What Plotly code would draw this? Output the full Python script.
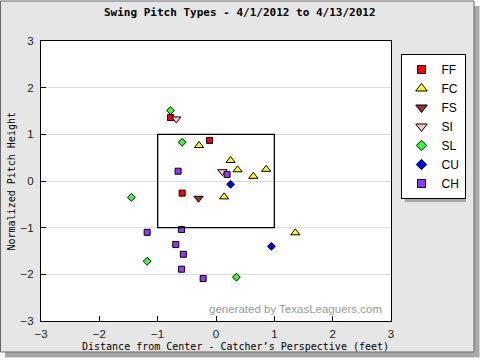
import plotly.graph_objects as go

# ---- data (feet from center, normalized height) ----
pitch_types = ["FF", "FC", "FS", "SI", "SL", "CU", "CH"]
ff_x = [-0.78, -0.11, -0.58]
ff_y = [1.36, 0.87, -0.26]
fc_x = [-0.29, 0.25, 0.37, 0.64, 0.86, 0.14, 1.36]
fc_y = [0.76, 0.44, 0.24, 0.10, 0.25, -0.34, -1.11]
fs_x = [-0.30]
fs_y = [-0.37]
si_x = [-0.68, 0.11]
si_y = [1.33, 0.20]
sl_x = [-0.78, -0.58, -1.45, -1.18, 0.35]
sl_y = [1.51, 0.83, -0.35, -1.72, -2.06]
cu_x = [0.25, 0.95]
cu_y = [-0.07, -1.40]
ch_x = [-0.65, 0.19, -1.18, -0.59, -0.69, -0.56, -0.59, -0.22]
ch_y = [0.21, 0.14, -1.10, -1.04, -1.36, -1.57, -1.89, -2.09]
tick_vals = [-3, -2, -1, 0, 1, 2, 3]

series = [
    ("FF", ff_x, ff_y, "square", "#ff0000", 6),
    ("FC", fc_x, fc_y, "triangle-up", "#ffff00", 8),
    ("FS", fs_x, fs_y, "triangle-down", "#993333", 8),
    ("SI", si_x, si_y, "triangle-down", "#ffc0cb", 8),
    ("SL", sl_x, sl_y, "diamond", "#33ff33", 6),
    ("CU", cu_x, cu_y, "diamond", "#0000ff", 6),
    ("CH", ch_x, ch_y, "square", "#9933ff", 6),
]

fig = go.Figure()
for name, xs, ys, sym, col, sz in series:
    fig.add_trace(go.Scatter(
        x=xs, y=ys, mode="markers", name=name, showlegend=False,
        marker=dict(symbol=sym, color=col, size=sz,
                    line=dict(color="black", width=1)),
    ))
# legend entries (slightly larger markers, as in the reference legend)
for name, xs, ys, sym, col, sz in series:
    fig.add_trace(go.Scatter(
        x=[None], y=[None], mode="markers", name=name, showlegend=True,
        marker=dict(symbol=sym, color=col, size=sz + 2,
                    line=dict(color="black", width=1)),
    ))

L, R, T, B = 41, 89, 41, 39
PW, PH = 480 - L - R, 360 - T - B


def px(x):
    return (x - L) / PW


def py(y):
    return (360 - B - y) / PH


shapes = [
    # outer frame shadow
    dict(type="rect", xref="paper", yref="paper", layer="below",
         x0=px(5), x1=px(479.5), y0=py(357.5), y1=py(6),
         fillcolor="#a8a8a8", line=dict(width=0)),
    # outer frame
    dict(type="rect", xref="paper", yref="paper", layer="below",
         x0=px(0.5), x1=px(474), y0=py(352), y1=py(1),
         fillcolor="#e6e6e6", line=dict(color="#666666", width=1)),
    # plot area (white)
    dict(type="rect", xref="paper", yref="paper", layer="below",
         x0=0, x1=1, y0=0, y1=1, fillcolor="white", line=dict(width=0)),
    # legend shadow
    dict(type="rect", xref="paper", yref="paper", layer="below",
         x0=px(405), x1=px(466), y0=py(202), y1=py(59),
         fillcolor="#a8a8a8", line=dict(width=0)),
    # strike zone
    dict(type="rect", xref="x", yref="y", layer="above",
         x0=-1, x1=1, y0=-1, y1=1, line=dict(color="black", width=1.3)),
]

mono = "DejaVu Sans Mono"
annotations = [
    dict(text="<b>Swing Pitch Types - 4/1/2012 to 4/13/2012</b>",
         xref="paper", yref="paper", x=px(240), y=py(13),
         xanchor="center", yanchor="middle",
         showarrow=False, font=dict(family=mono, size=11, color="black")),
    dict(text="Distance from Center - Catcher\u2019s Perspective (feet)",
         xref="paper", yref="paper", x=px(235.5), y=py(346),
         xanchor="center", yanchor="middle",
         showarrow=False, font=dict(family=mono, size=10, color="black")),
    dict(text="Normalized Pitch Height", textangle=-90,
         xref="paper", yref="paper", x=px(11), y=py(181.5),
         xanchor="center", yanchor="middle",
         showarrow=False, font=dict(family=mono, size=10, color="black")),
    dict(text="generated by TexasLeaguers.com",
         xref="paper", yref="paper", x=px(384), y=py(309),
         xanchor="right", yanchor="middle", showarrow=False,
         font=dict(family="Liberation Sans", size=11.5, color="#999999")),
]

axis_common = dict(
    range=[-3, 3], tickmode="array", tickvals=tick_vals,
    ticks="inside", ticklen=5, tickcolor="black",
    showline=True, linecolor="black", linewidth=1, mirror=True,
    zeroline=False, fixedrange=True,
    tickfont=dict(family="Liberation Sans", size=11.5, color="#222222"),
)

fig.update_layout(
    width=480, height=360,
    margin=dict(l=L, r=R, t=T, b=B, pad=0),
    paper_bgcolor="white", plot_bgcolor="white",
    xaxis=dict(**axis_common, showgrid=False, ticklabelstandoff=2),
    yaxis=dict(**axis_common, showgrid=True, gridcolor="#dcdcdc",
               gridwidth=1, ticklabelstandoff=4),
    shapes=shapes, annotations=annotations,
    legend=dict(x=px(400.5), y=py(54), xanchor="left", yanchor="top",
                bgcolor="white", bordercolor="black", borderwidth=1,
                tracegroupgap=0,
                font=dict(family="Liberation Sans", size=12, color="black")),
    showlegend=True,
)

fig.write_html("out.html",
               config={"displayModeBar": False, "staticPlot": True},
               post_script="document.body.style.margin='0';"
                           "document.body.style.padding='0';")
